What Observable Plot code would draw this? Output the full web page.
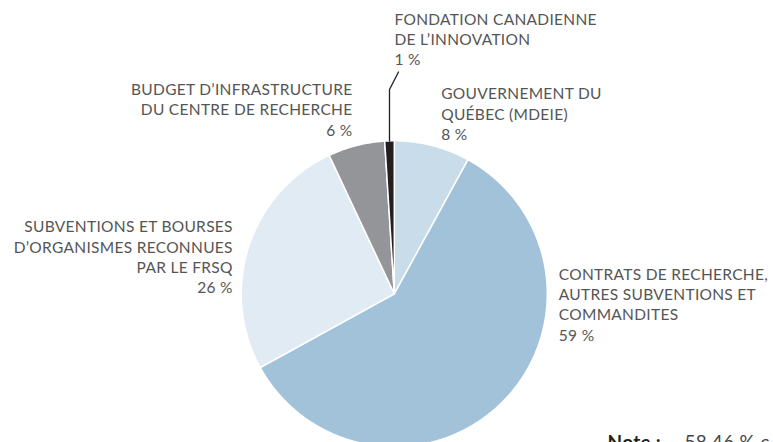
<!DOCTYPE html>
<html>
<head>
<meta charset="utf-8">
<script src="https://cdn.jsdelivr.net/npm/d3@7"></script>
<script src="https://cdn.jsdelivr.net/npm/@observablehq/plot@0.6"></script>
<style>
  html, body { margin: 0; padding: 0; background: #fff; }
  #chart { width: 773px; height: 442px; overflow: hidden; }
  #chart svg text { letter-spacing: 0.3px; }
</style>
</head>
<body>
<div id="chart"></div>
<script>
// ---- data ----
const categories = [
  "GOUVERNEMENT DU\nQUÉBEC (MDEIE)",
  "CONTRATS DE RECHERCHE,\nAUTRES SUBVENTIONS ET\nCOMMANDITES",
  "SUBVENTIONS ET BOURSES\nD’ORGANISMES RECONNUES\nPAR LE FRSQ",
  "BUDGET D’INFRASTRUCTURE\nDU CENTRE DE RECHERCHE",
  "FONDATION CANADIENNE\nDE L’INNOVATION"
];
const shares = [8, 59, 26, 6, 1];
const noteLead = "Note :";
const noteText = "58,46 % c";

// ---- styles & layout ----
const colors = ["#c8dce9", "#a1c2d9", "#e0ebf3", "#939598", "#231f20"];
const W = 773, H = 450;
const cx = 393.8, cy = 293.3, R = 153;
const FS = 15.5, LH = 1.31;
const capShift = 0.71 * LH * FS - 0.7165 * FS; // distance from anchor y to cap top
// label anchors in pixels: [x, capTop, anchor]
const labelLayout = [
  [440.7, 87.7, "start"],
  [558.3, 268, "start"],
  [232.3, 220.7, "end"],
  [352, 83.3, "end"],
  [394, 13, "start"]
];
const toU = (px, py) => [(px - cx) / R, (py - cy) / R];

// ---- geometry from data ----
const pie = d3.pie().sort(null).value(d => d.value)(categories.map((c, i) => ({name: c, value: shares[i]})));
function slicePolygon(a) {
  const pts = [[0, 0]];
  const n = Math.max(2, Math.ceil((a.endAngle - a.startAngle) / (Math.PI / 360)));
  for (let k = 0; k <= n; k++) {
    const t = a.startAngle + (a.endAngle - a.startAngle) * k / n;
    pts.push([Math.sin(t), -Math.cos(t)]);
  }
  pts.push([0, 0]);
  return {type: "Feature", properties: {name: a.data.name, value: a.data.value}, geometry: {type: "Polygon", coordinates: [pts]}};
}
const slices = pie.map(slicePolygon);
// projection domain = the whole SVG area, in pie-radius units
const [ux0, uy0] = toU(0, 0), [ux1, uy1] = toU(W, H);
const domainFrame = {type: "Polygon", coordinates: [[[ux0, uy0], [ux1, uy0], [ux1, uy1], [ux0, uy1], [ux0, uy0]]]};

const labels = pie.map((a, i) => {
  const [x, y] = toU(labelLayout[i][0], labelLayout[i][1] - capShift);
  return {x, y, anchor: labelLayout[i][2], text: `${a.data.name}\n${a.data.value} %`};
});

// leader line for the smallest slice
const small = pie[4];
const mid = (small.startAngle + small.endAngle) / 2;
const rimX = Math.sin(mid), rimY = -Math.cos(mid);
const bendY = toU(0, 89)[1];
const leaderEnd = toU(398, 71.5);
const leader = {type: "LineString", coordinates: [[rimX, rimY], [rimX, bendY], leaderEnd]};

const notePos = toU(607, 434.5);
const notePos2 = toU(684, 434.5);

const plot = Plot.plot({
  width: W,
  height: H,
  margin: 0,
  projection: {type: "identity", domain: domainFrame},
  style: {fontFamily: "Lato, 'Open Sans', sans-serif", overflow: "hidden"},
  color: {domain: categories, range: colors},
  marks: [
    Plot.geo(slices, {fill: d => d.properties.name, stroke: "#fff", strokeWidth: 1.5}),
    Plot.geo([leader], {stroke: "#231f20", strokeWidth: 1.3, fill: "none"}),
    Plot.text(labels.filter(d => d.anchor === "start"), {x: "x", y: "y", text: "text", textAnchor: "start", lineAnchor: "top", lineHeight: LH, fontSize: FS, fill: "#555"}),
    Plot.text(labels.filter(d => d.anchor === "end"), {x: "x", y: "y", text: "text", textAnchor: "end", lineAnchor: "top", lineHeight: LH, fontSize: FS, fill: "#555"}),
    Plot.text([noteLead], {x: () => notePos[0], y: () => notePos[1], text: d => d, textAnchor: "start", lineAnchor: "top", fontSize: 19, fontWeight: "bold", fill: "#231f20"}),
    Plot.text([noteText], {x: () => notePos2[0], y: () => notePos2[1], text: d => d, textAnchor: "start", lineAnchor: "top", fontSize: 19, fill: "#444"})
  ]
});
document.getElementById("chart").appendChild(plot);
</script>
</body>
</html>
